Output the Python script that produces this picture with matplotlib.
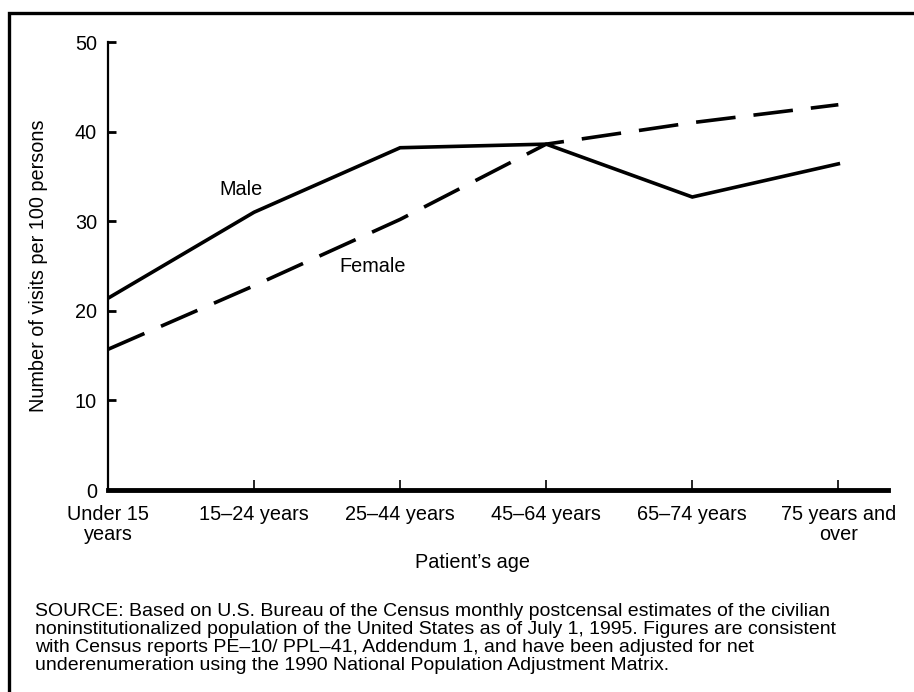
import matplotlib.pyplot as plt
from matplotlib.patches import Rectangle

plt.rcParams['font.family'] = ['Liberation Sans', 'DejaVu Sans']

age_groups = ["Under 15\nyears", "15\u201224 years", "25\u201244 years",
              "45\u201264 years", "65\u201274 years", "75 years and\nover"]
male = [21.4, 31.0, 38.2, 38.6, 32.7, 36.4]
female = [15.7, 22.8, 30.2, 38.6, 41.0, 43.0]
y_ticks = [0, 10, 20, 30, 40, 50]

W, H = 914, 692
FS = 14.3
fig = plt.figure(figsize=(W / 100, H / 100), dpi=100)
ax = fig.add_axes([108 / W, 1 - 490 / H, (888 - 108) / W, (490 - 42) / H])

x = list(range(len(age_groups)))
ax.plot(x, male, color='black', lw=2.6, solid_joinstyle='miter')
ax.plot(x, female, color='black', lw=2.6, dashes=(11, 5))

ax.text(0.91, 33.5, "Male", ha='center', va='center', fontsize=FS)
ax.text(1.81, 24.9, "Female", ha='center', va='center', fontsize=FS)

ax.set_xlim(0, 5.34)
ax.set_ylim(0, 50)
ax.set_xticks(x)
ax.set_xticklabels(age_groups, fontsize=FS, linespacing=1.05)
ax.set_yticks(y_ticks)
ax.set_yticklabels([str(v) for v in y_ticks], fontsize=FS)
ax.tick_params(axis='x', direction='in', length=7, width=1.2, pad=11)
ax.tick_params(axis='y', direction='in', length=6, width=2, pad=8)

for s in ['top', 'right']:
    ax.spines[s].set_visible(False)
ax.spines['left'].set_linewidth(1.6)
ax.spines['bottom'].set_linewidth(3.5)

ax.set_ylabel("Number of visits per 100 persons", fontsize=FS)
ax.yaxis.set_label_coords(-0.077, 0.5)
fig.text(473 / W, 1 - 563 / H, "Patient\u2019s age", ha='center', va='center', fontsize=FS)

source = ("SOURCE: Based on U.S. Bureau of the Census monthly postcensal estimates of the civilian\n"
          "noninstitutionalized population of the United States as of July 1, 1995. Figures are consistent\n"
          "with Census reports PE\u201210/ PPL\u201241, Addendum 1, and have been adjusted for net\n"
          "underenumeration using the 1990 National Population Adjustment Matrix.")
fig.text(35 / W, 1 - 603 / H, source, ha='left', va='top', fontsize=14, linespacing=1.08)

# outer frame, running past the right and bottom edges
fig.patches.append(Rectangle((9 / W, -0.2), 1.2, 1.2 - 13 / H, transform=fig.transFigure,
                             fill=False, edgecolor='black', lw=2.4))

fig.savefig('out.png', dpi=100)
